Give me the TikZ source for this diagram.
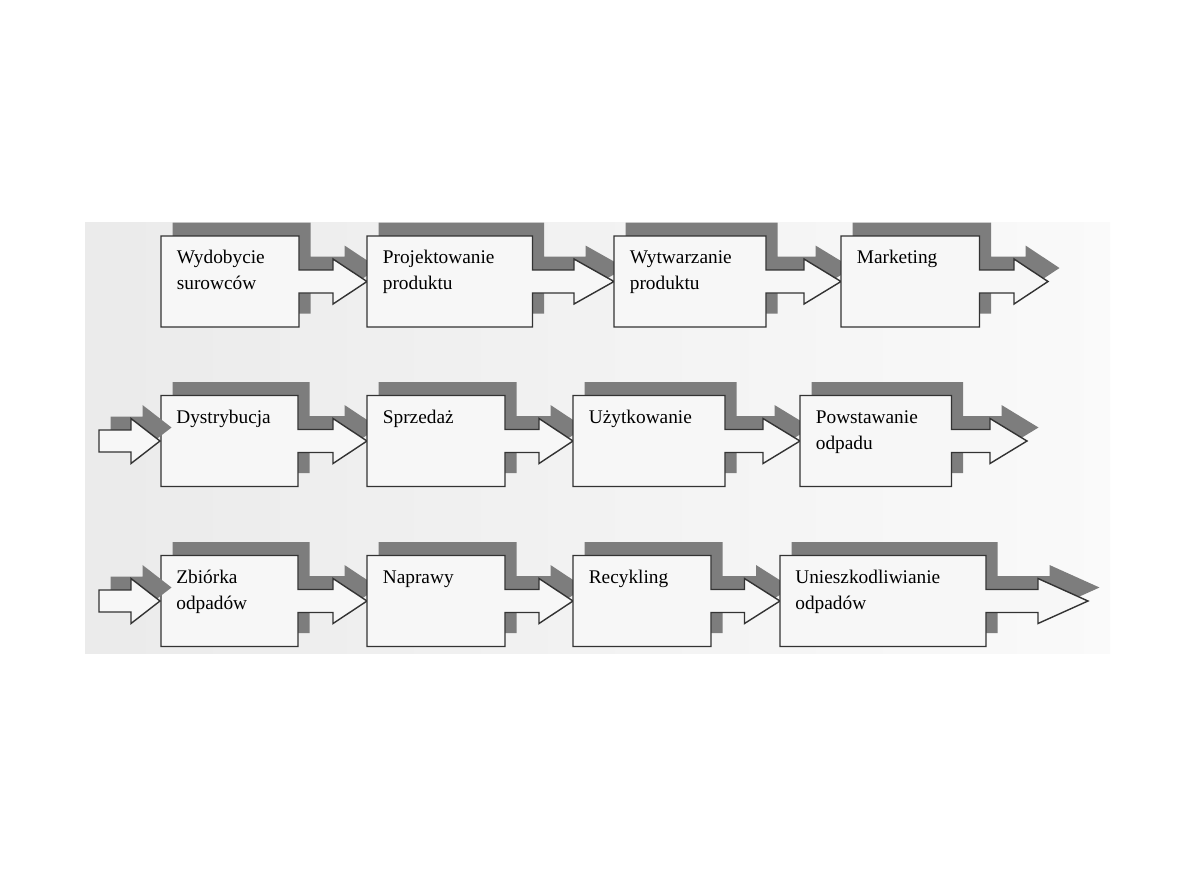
\documentclass[tikz,border=0pt]{standalone}
\usepackage{fontspec}
\setmainfont{Liberation Serif}
\usepackage{xcolor}
\usepackage{tikz}

\definecolor{shadowgray}{gray}{0.49}
\definecolor{edgegray}{gray}{0.2}

% box with its outgoing arrow: left, right, head start, tip, top
\newcommand{\stagepath}[5]{(#1,#5) -- (#2,#5) -- (#2,#5+34) -- (#3,#5+34) -- (#3,#5+23)
  -- (#4,#5+45.5) -- (#3,#5+68) -- (#3,#5+57) -- (#2,#5+57) -- (#2,#5+91)
  -- (#1,#5+91) -- cycle}
% incoming arrow at the start of a row: centre y
\newcommand{\inpath}[1]{(99,#1-11) -- (131,#1-11) -- (131,#1-22.5) -- (160,#1)
  -- (131,#1+22.5) -- (131,#1+11) -- (99,#1+11) -- cycle}

\begin{document}
\begin{tikzpicture}[x=0.02cm, y=-0.02cm,
	dropshadow/.style={fill=shadowgray, shift={(11.5,-13.5)}},
	stage/.style={draw=edgegray, line width=0.8pt, fill=black!3},
	stagetext/.style={anchor=base west, inner sep=0pt, font=\fontsize{11}{14.8}\selectfont}]
		\useasboundingbox (0,0) rectangle (1191,893);
		\fill[white] (0,0) rectangle (1191,893);
		
		% Panel
		\path[left color=black!8, right color=black!2] (85,222.5) rectangle (1110,653);
		
		% Row 1
		\fill[dropshadow] \stagepath{161}{299}{333}{367}{236};
		\draw[stage] \stagepath{161}{299}{333}{367}{236};
		\fill[dropshadow] \stagepath{367}{532.5}{574}{614}{236};
		\draw[stage] \stagepath{367}{532.5}{574}{614}{236};
		\fill[dropshadow] \stagepath{614}{766}{804}{841}{236};
		\draw[stage] \stagepath{614}{766}{804}{841}{236};
		\fill[dropshadow] \stagepath{841}{979.5}{1014}{1048}{236};
		\draw[stage] \stagepath{841}{979.5}{1014}{1048}{236};
		\node[stagetext] (wydobycie) at (176.5,263.5) {\parbox[t]{4cm}{Wydobycie\\surowców}};
		\node[stagetext] (projektowanie) at (382.5,263.5) {\parbox[t]{4cm}{Projektowanie\\produktu}};
		\node[stagetext] (wytwarzanie) at (629.5,263.5) {\parbox[t]{4cm}{Wytwarzanie\\produktu}};
		\node[stagetext] (marketing) at (856.5,263.5) {Marketing};
		
		% Row 2
		\fill[dropshadow] \stagepath{161}{298}{333}{367}{395.5};
		\draw[stage] \stagepath{161}{298}{333}{367}{395.5};
		\fill[dropshadow] \stagepath{367}{505}{539}{573}{395.5};
		\draw[stage] \stagepath{367}{505}{539}{573}{395.5};
		\fill[dropshadow] \stagepath{573}{725}{763}{800}{395.5};
		\draw[stage] \stagepath{573}{725}{763}{800}{395.5};
		\fill[dropshadow] \stagepath{800}{951.5}{990}{1027}{395.5};
		\draw[stage] \stagepath{800}{951.5}{990}{1027}{395.5};
		\fill[dropshadow] \inpath{441};
		\draw[stage] \inpath{441};
		\node[stagetext] (dystrybucja) at (176,423.5) {Dystrybucja};
		\node[stagetext] (sprzedaz) at (382.5,423.5) {Sprzedaż};
		\node[stagetext] (uzytkowanie) at (588.5,423.5) {Użytkowanie};
		\node[stagetext] (powstawanie) at (815.5,423.5) {\parbox[t]{4cm}{Powstawanie\\odpadu}};
		
		% Row 3
		\fill[dropshadow] \stagepath{161}{298}{333}{367}{555.5};
		\draw[stage] \stagepath{161}{298}{333}{367}{555.5};
		\fill[dropshadow] \stagepath{367}{505}{539}{573}{555.5};
		\draw[stage] \stagepath{367}{505}{539}{573}{555.5};
		\fill[dropshadow] \stagepath{573}{711}{744.5}{780}{555.5};
		\draw[stage] \stagepath{573}{711}{744.5}{780}{555.5};
		\fill[dropshadow] \stagepath{780}{986}{1038}{1088}{555.5};
		\draw[stage] \stagepath{780}{986}{1038}{1088}{555.5};
		\fill[dropshadow] \inpath{601};
		\draw[stage] \inpath{601};
		\node[stagetext] (zbiorka) at (176,583) {\parbox[t]{4cm}{Zbiórka\\odpadów}};
		\node[stagetext] (naprawy) at (382.5,583) {Naprawy};
		\node[stagetext] (recykling) at (588.5,583) {Recykling};
		\node[stagetext] (unieszkodliwianie) at (795,583) {\parbox[t]{4cm}{Unieszkodliwianie\\odpadów}};
	\end{tikzpicture}
\end{document}
